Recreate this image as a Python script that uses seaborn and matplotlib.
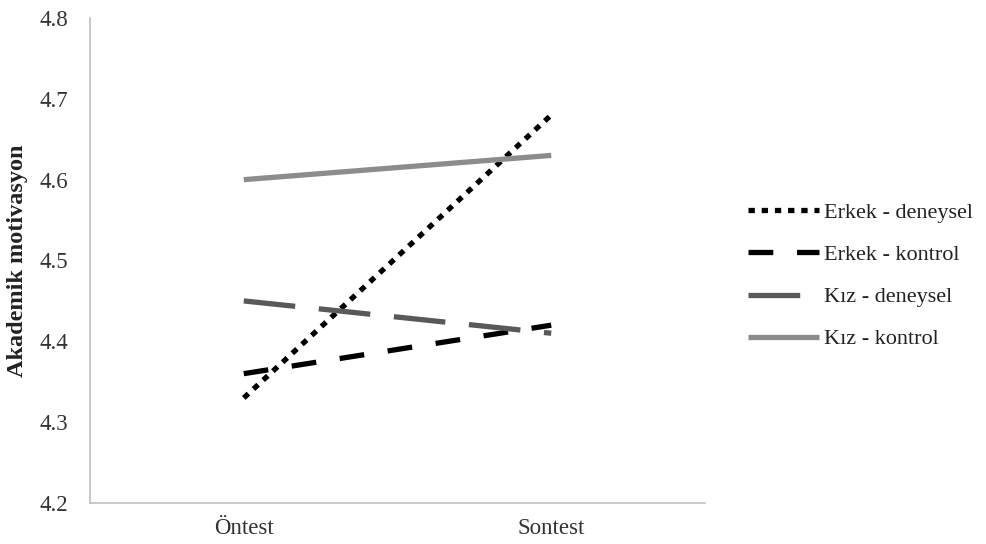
import matplotlib
matplotlib.use("Agg")
import matplotlib.pyplot as plt
import seaborn as sns
import pandas as pd

tests = ["Öntest", "Sontest"]
groups = ["Erkek - deneysel", "Erkek - kontrol", "Kız - deneysel", "Kız - kontrol"]
erkek_deneysel = [4.33, 4.68]
erkek_kontrol = [4.36, 4.42]
kiz_deneysel = [4.45, 4.41]
kiz_kontrol = [4.60, 4.63]
y_ticks = [4.2, 4.3, 4.4, 4.5, 4.6, 4.7, 4.8]

series = [erkek_deneysel, erkek_kontrol, kiz_deneysel, kiz_kontrol]
rows = []
for g, vals in zip(groups, series):
    for t, v in zip(tests, vals):
        rows.append({"Test": t, "Değer": v, "Grup": g})
df = pd.DataFrame(rows)

sns.set_theme(style="white")
plt.rcParams['font.family'] = ['Liberation Serif', 'DejaVu Serif']

palette = {groups[0]: "#000000", groups[1]: "#000000",
           groups[2]: "#595959", groups[3]: "#8c8c8c"}
dashes = {groups[0]: (1.2, 1.3), groups[1]: (4.7, 4.5),
          groups[2]: (9.8, 4.5), groups[3]: ""}

fig = plt.figure(figsize=(9.86, 5.44), dpi=100)
ax = fig.add_axes([90/986, 41/544, 615/986, 485/544])

sns.lineplot(data=df, x="Test", y="Değer", hue="Grup", style="Grup",
             palette=palette, dashes=dashes, linewidth=3.8, ax=ax,
             sort=False, hue_order=groups, style_order=groups)
for ln in ax.get_lines():
    ln.set_dash_capstyle("butt")
    ln.set_solid_capstyle("butt")

ax.set_xlim(-0.5, 1.5)
ax.set_ylim(4.2, 4.8)
ax.set_yticks(y_ticks)
ax.set_yticklabels([f"{v:.1f}" for v in y_ticks])
ax.tick_params(axis="both", length=0, labelsize=16.5, colors="#333333")
ax.tick_params(axis="y", pad=16)
ax.tick_params(axis="x", pad=11)
ax.set_xlabel("")
ax.set_ylabel("Akademik motivasyon", fontsize=17.5, fontweight="bold",
              color="#222222")
ax.yaxis.set_label_coords(-0.1, 0.5)

for s in ["top", "right"]:
    ax.spines[s].set_visible(False)
for s in ["left", "bottom"]:
    ax.spines[s].set_color("#c0c0c0")
    ax.spines[s].set_linewidth(1.2)

leg = ax.legend(loc="center left", bbox_to_anchor=(1.055, 0.468), frameon=False,
                fontsize=16, handlelength=3.2, handletextpad=0.25,
                labelspacing=0.97, borderaxespad=0)
for t in leg.get_texts():
    t.set_color("#222222")
for h in leg.get_lines():
    h.set_linewidth(3.8)
    h.set_dash_capstyle("butt")

fig.savefig("out.png", dpi=100, facecolor="white")
